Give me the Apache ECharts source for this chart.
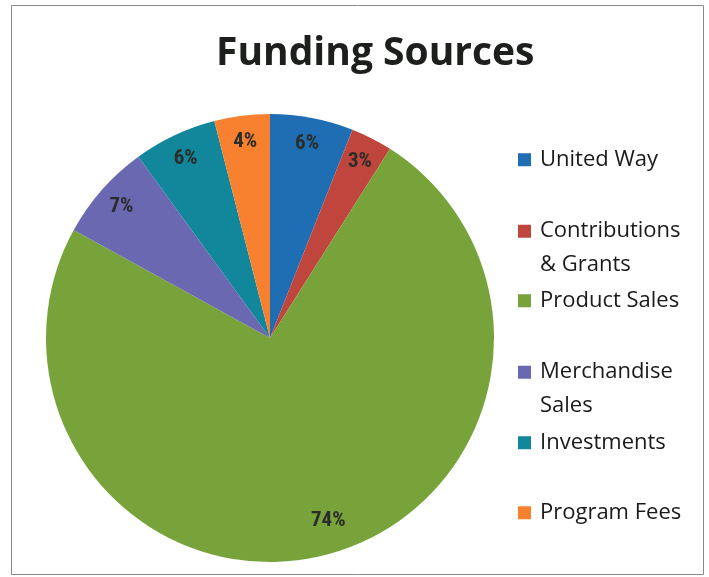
<!DOCTYPE html>
<html>
<head>
<meta charset="utf-8">
<script src="https://cdn.jsdelivr.net/npm/echarts@6/dist/echarts.min.js"></script>
<style>
html,body{margin:0;padding:0;background:#fff;}
#c{width:709px;height:577px;}
</style>
</head>
<body>
<div id="c"></div>
<script>
const categories = ['United Way', 'Contributions & Grants', 'Product Sales', 'Merchandise Sales', 'Investments', 'Program Fees'];
const legendLabels = ['United Way', 'Contributions\n& Grants', 'Product Sales', 'Merchandise\nSales', 'Investments', 'Program Fees'];
const values = [6, 3, 74, 7, 6, 4];
const colors = ['#1f6db3', '#c0463d', '#78a33b', '#6b68b2', '#12869a', '#f7812f'];
const titleText = 'Funding Sources';

const chart = echarts.init(document.getElementById('c'), null, {renderer: 'canvas'});
const center = [270, 338];
const R = 224;
const LH = 33.5;

const legendTops = [143, 214, 284, 355, 426, 496];
const legends = categories.map((name, i) => {
  const multi = legendLabels[i].includes('\n');
  return {
    orient: 'vertical',
    left: 518,
    top: legendTops[i],
    padding: 0,
    itemWidth: 17,
    itemHeight: multi ? 45.5 : 13,
    icon: multi ? 'path://M0,0L13,0L13,13L0,13Z M0,45.5L17,45.5' : 'path://M0,0L13,0L13,13L0,13Z M0,13L17,13',
    selectedMode: false,
    formatter: () => legendLabels[i],
    textStyle: {
      fontFamily: '"Open Sans", Lato, sans-serif',
      fontSize: 22,
      color: '#1a1a1a',
      lineHeight: LH
    },
    data: [name]
  };
});

chart.setOption({
  backgroundColor: '#fff',
  animation: false,
  title: {
    text: titleText,
    left: 216,
    top: 34,
    padding: 0,
    textStyle: {fontFamily: '"Open Sans", Lato, sans-serif', fontWeight: 'bold', fontSize: 39, color: '#1c1f1c'}
  },
  legend: legends,
  graphic: [{
    type: 'rect', shape: {x: 11.5, y: 5.5, width: 692, height: 569},
    style: {fill: 'none', stroke: '#8a8a8a', lineWidth: 1}, silent: true, z: -1
  }],
  series: [{
    type: 'pie',
    center: center,
    radius: [0, R],
    startAngle: 90,
    clockwise: true,
    label: {show: false},
    labelLine: {show: false},
    itemStyle: {borderWidth: 0},
    emphasis: {disabled: true},
    data: categories.map((n, i) => ({name: n, value: values[i], itemStyle: {color: colors[i]}}))
  }, {
    type: 'pie',
    center: center,
    radius: [166, R],
    startAngle: 90,
    clockwise: true,
    silent: true,
    legendHoverLink: false,
    itemStyle: {color: 'rgba(0,0,0,0)', borderWidth: 0},
    emphasis: {disabled: true},
    label: {
      show: true,
      position: 'inside',
      formatter: p => p.value + '%',
      fontFamily: '"Liberation Sans Narrow", "Roboto Condensed", "DejaVu Sans Condensed", "Liberation Sans", sans-serif',
      fontWeight: 'bold',
      fontSize: 21,
      color: '#2a2d2a'
    },
    labelLine: {show: false},
    data: categories.map((n, i) => ({
      name: n, value: values[i],
      label: i === 2 ? {offset: [9, -9]} : undefined
    }))
  }]
});
</script>
</body>
</html>
